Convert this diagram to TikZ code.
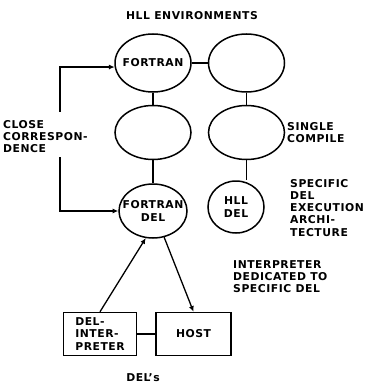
\documentclass[tikz,border=0pt]{standalone}
\usepackage{fontspec}
\setmainfont{DejaVu Sans}[LetterSpace=5]
\usetikzlibrary{arrows.meta,positioning,shapes.geometric}
\newcommand\lbl{\bfseries\fontsize{10.8}{12.2}\selectfont}
\tikzset{
  >={Latex[length=2mm,width=1.8mm]},
  ell/.style={draw,ellipse,line width=1.5pt,minimum width=76pt,minimum height=58pt,inner xsep=-8pt,inner ysep=0pt,font=\lbl,align=center},
  blk/.style={draw,line width=1.5pt,minimum height=43pt,inner sep=2pt,font=\lbl,align=left},
  lab/.style={font=\lbl,align=left,anchor=north west,inner sep=0pt},
  con/.style={line width=1.5pt},
  arr/.style={->,line width=1.3pt},
}
\begin{document}
\begin{tikzpicture}[x=1pt,y=-1pt]
\useasboundingbox (0,0) rectangle (370,385);
\node[lab,anchor=center] (title) at (192,16) {HLL ENVIRONMENTS};
% HLL environments
\node[ell] (fortran) at (153,63) {FORTRAN};
\node[ell,right=16pt of fortran] (hllenv) {};
\node[ell,minimum height=54pt,below=12pt of fortran] (midl) {};
\node[ell,minimum height=54pt,below=12pt of hllenv] (midr) {};
\node[ell,minimum width=68pt,minimum height=54pt,below=23pt of midl] (ftdel) {FORTRAN\\DEL};
\node[ell,minimum width=56pt,minimum height=52pt] (hlldel) at (236,207) {HLL\\DEL};
\draw[con] (fortran) -- (hllenv);
\draw[con] (fortran) -- (midl); \draw[con] (midl) -- (ftdel);
\draw[con] (hllenv) -- (midr); \draw[con] (midr) -- (hlldel.north -| midr);
% close correspondence
\node[lab] (close) at (3,120) {CLOSE\\CORRESPON-\\DENCE};
\coordinate (cctop) at (60,112);
\coordinate (ccbot) at (60,157);
\draw[arr] (cctop) |- (fortran.186);
\draw[arr] (ccbot) |- (ftdel.west);
\node[lab] (single) at (287,122) {SINGLE\\COMPILE};
\node[lab] (specific) at (290,179) {SPECIFIC\\DEL\\EXECUTION\\ARCHI-\\TECTURE};
% DEL's
\node[blk,minimum width=73pt] (interp) at (100,334) {DEL-\\INTER-\\PRETER};
\node[blk,minimum width=75pt,right=18pt of interp] (host) {HOST};
\draw[con] (interp) -- (host);
\draw[arr] (interp.north) -- (ftdel.255);
\draw[arr] (ftdel.293) -- (host.north);
\node[lab] (dedic) at (233,260) {INTERPRETER\\DEDICATED TO\\SPECIFIC DEL};
\node[lab,anchor=center] (dels) at (143,378) {DEL's};
\end{tikzpicture}
\end{document}
